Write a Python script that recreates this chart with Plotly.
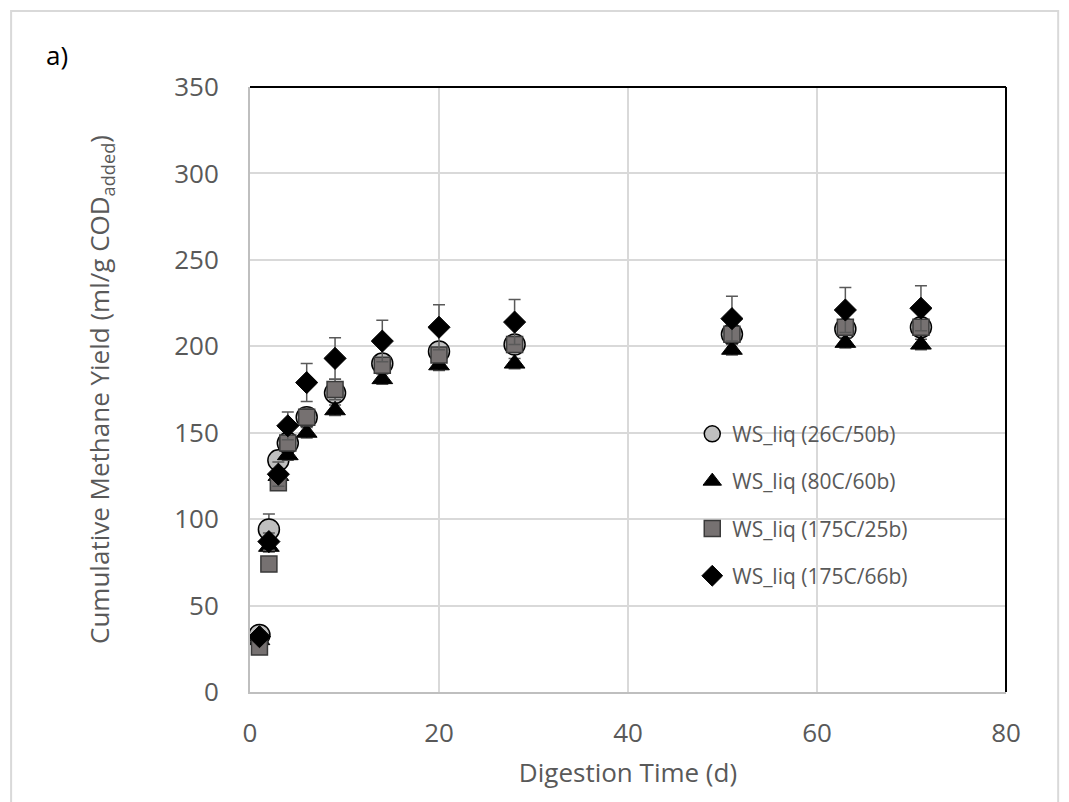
import plotly.graph_objects as go

days = [1, 2, 3, 4, 6, 9, 14, 20, 28, 51, 63, 71]

names = ["WS_liq (26C/50b)", "WS_liq (80C/60b)", "WS_liq (175C/25b)", "WS_liq (175C/66b)"]

y_26c_50b = [33, 94, 134, 144, 159, 173, 190, 197, 201, 207, 210, 211]
y_80c_60b = [30, 84, 125, 137, 150, 163, 181, 189, 190, 198, 202, 201]
y_175c_25b = [26, 74, 121, 144, 159, 175, 189, 195, 201, 207, 211, 211]
y_175c_66b = [32, 87, 126, 154, 179, 193, 203, 211, 214, 216, 221, 222]

err_26c_50b = [3, 9, 5, 5, 5, 5, 4, 4, 4, 4, 4, 4]
err_80c_60b = [2, 3, 3, 3, 3, 3, 3, 3, 3, 3, 3, 3]
err_175c_25b = [2, 3, 4, 4, 5, 6, 4, 4, 4, 4, 4, 4]
err_175c_66b = [3, 5, 7, 8, 11, 12, 12, 13, 13, 13, 13, 13]

series = [y_26c_50b, y_80c_60b, y_175c_25b, y_175c_66b]
errors = [err_26c_50b, err_80c_60b, err_175c_25b, err_175c_66b]

styles = [
    dict(symbol="circle", size=21, color="#BFBFBF", line=dict(color="#000000", width=1.5)),
    dict(symbol="triangle-up", size=18, color="#000000", line=dict(color="#000000", width=1)),
    dict(symbol="square", size=16, color="#767171", line=dict(color="#3A3A3A", width=1.5)),
    dict(symbol="diamond", size=17, color="#000000", line=dict(color="#000000", width=1)),
]

FONT = "Open Sans"
TXT = "#595959"

fig = go.Figure()
for i, (nm, ys, er, st) in enumerate(zip(names, series, errors, styles)):
    fig.add_trace(go.Scatter(
        x=days, y=ys, name=nm, mode="markers", legendgroup=f"g{i}",
        marker=st, cliponaxis=False,
        error_y=dict(type="data", array=er, visible=True, color="#595959",
                     thickness=1.5, width=6),
    ))

fig.update_layout(
    width=1061, height=794,
    margin=dict(l=242, r=63, t=79, b=110),
    paper_bgcolor="white", plot_bgcolor="white",
    font=dict(family=FONT, color=TXT, size=26),
    showlegend=True,
    legend=dict(x=0.585, y=0.46, xanchor="left", yanchor="top",
                font=dict(family=FONT, size=21, color=TXT),
                bgcolor="rgba(255,255,255,0)", tracegroupgap=17,
                itemsizing="trace"),
    xaxis=dict(range=[0, 80], dtick=20, showgrid=True, gridcolor="#D9D9D9", gridwidth=1.5,
               showline=True, linecolor="#BFBFBF", linewidth=2, zeroline=False,
               ticks="", ticklabelstandoff=17,
               tickfont=dict(size=26, color=TXT, family=FONT),
               title=dict(text="Digestion Time (d)", standoff=15,
                          font=dict(size=26, color=TXT, family=FONT))),
    yaxis=dict(range=[0, 350], dtick=50, showgrid=True, gridcolor="#D9D9D9", gridwidth=1.5,
               showline=True, linecolor="#BFBFBF", linewidth=2, zeroline=False,
               ticks="", ticklabelstandoff=24,
               tickfont=dict(size=26, color=TXT, family=FONT),
               title=dict(text="Cumulative Methane Yield (ml/g COD<sub>added</sub>)", standoff=57,
                          font=dict(size=26, color=TXT, family=FONT))),
    shapes=[
        dict(type="line", xref="paper", yref="paper", x0=0, x1=1, y0=1, y1=1,
             line=dict(color="#000000", width=2)),
        dict(type="line", xref="paper", yref="paper", x0=1, x1=1, y0=0, y1=1,
             line=dict(color="#000000", width=2)),
        dict(type="rect", xref="paper", yref="paper", x0=-0.316, x1=1.069, y0=-0.2, y1=1.1256,
             line=dict(color="#D9D9D9", width=2), layer="below"),
    ],
    annotations=[
        dict(text="a)", xref="paper", yref="paper", x=-0.273, y=1.053, xanchor="left",
             yanchor="middle", showarrow=False, font=dict(family=FONT, size=26, color="#000000")),
    ],
)

fig.write_html("out.html")
